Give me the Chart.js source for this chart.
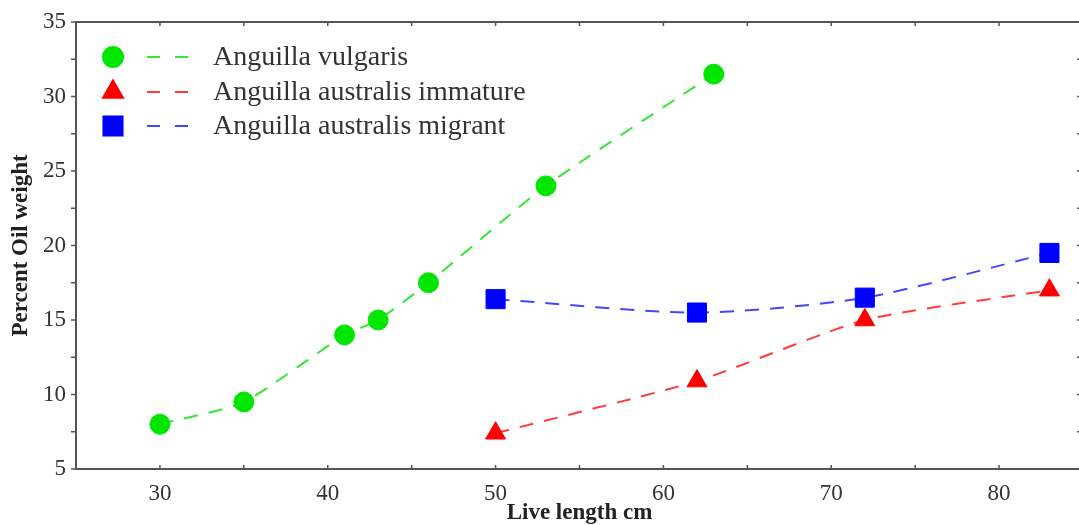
<!DOCTYPE html>
<html>
<head>
<meta charset="utf-8">
<script src="https://cdn.jsdelivr.net/npm/chart.js@4/dist/chart.umd.min.js"></script>
<style>
html,body{margin:0;padding:0;background:#fff;overflow:hidden;width:1079px;height:525px;}
#wrap{width:1084px;height:525px;position:relative;}
</style>
</head>
<body>
<div id="wrap"><canvas id="c" width="1084" height="525"></canvas></div>
<script>
// ---- data ----
const seriesNames = ["Anguilla vulgaris", "Anguilla australis immature", "Anguilla australis migrant"];
const vulgarisX = [30, 35, 41, 43, 46, 53, 63];
const vulgarisY = [8.0, 9.5, 14.0, 15.0, 17.5, 24.0, 31.5];
const immatureX = [50, 62, 72, 83];
const immatureY = [7.4, 10.9, 15.0, 17.0];
const migrantX = [50, 62, 72, 83];
const migrantY = [16.4, 15.5, 16.5, 19.5];
const xTickLabels = [30, 40, 50, 60, 70, 80];
const yTickLabels = [5, 10, 15, 20, 25, 30, 35];
const xTitle = "Live length cm";
const yTitle = "Percent Oil weight";

const pts = (xs, ys) => xs.map((x, i) => ({x: x, y: ys[i]}));

const SERIF = "'Liberation Serif', 'DejaVu Serif', serif";
const AXIS = '#555555';

const frameAndTicks = {
  id: 'frameAndTicks',
  afterDraw(chart) {
    const {ctx, chartArea: a, scales} = chart;
    const xs = scales.x, ys = scales.y;
    ctx.save();
    ctx.strokeStyle = AXIS;
    ctx.lineWidth = 2;
    ctx.strokeRect(a.left, a.top, a.right - a.left, a.bottom - a.top);
    ctx.lineWidth = 1.5;
    ctx.beginPath();
    xs.ticks.forEach(t => {
      const px = xs.getPixelForValue(t.value);
      ctx.moveTo(px, a.bottom); ctx.lineTo(px, a.bottom - 4);
      ctx.moveTo(px, a.top); ctx.lineTo(px, a.top + 4);
    });
    ys.ticks.forEach(t => {
      const py = ys.getPixelForValue(t.value);
      ctx.moveTo(a.left, py); ctx.lineTo(a.left - 5, py);
      ctx.moveTo(a.right, py); ctx.lineTo(a.right - 6, py);
    });
    ctx.stroke();
    ctx.restore();
  }
};

const customLegend = {
  id: 'customLegend',
  afterDraw(chart) {
    const {ctx} = chart;
    const rows = [57, 92, 126];
    ctx.save();
    chart.data.datasets.forEach((ds, i) => {
      const y = rows[i];
      ctx.strokeStyle = ds.borderColor;
      ctx.lineWidth = 2;
      ctx.setLineDash([13, 15]);
      ctx.beginPath();
      ctx.moveTo(147, y); ctx.lineTo(190, y);
      ctx.stroke();
      ctx.setLineDash([]);
      ctx.fillStyle = ds.pointBackgroundColor;
      ctx.strokeStyle = ds.pointBackgroundColor;
      Chart.helpers.drawPoint(ctx, {pointStyle: ds.pointStyle, radius: ds.pointRadius, borderWidth: 1, rotation: 0}, 113, y);
      ctx.fill();
      ctx.fillStyle = '#333333';
      ctx.font = "28px " + SERIF;
      ctx.textBaseline = 'middle';
      ctx.textAlign = 'left';
      ctx.fillText(ds.label, 213, y + 1);
    });
    ctx.restore();
  }
};

new Chart(document.getElementById('c'), {
  type: 'line',
  data: {
    datasets: [
      {
        label: seriesNames[0], data: pts(vulgarisX, vulgarisY),
        borderColor: '#33e833', backgroundColor: '#00e600',
        pointBackgroundColor: '#00e600', pointBorderColor: '#00e600',
        pointStyle: 'circle', pointRadius: 10, pointHoverRadius: 10, pointBorderWidth: 1,
        borderWidth: 2, borderDash: [14, 11], tension: 0.2, fill: false
      },
      {
        label: seriesNames[1], data: pts(immatureX, immatureY),
        borderColor: '#ff3b3b', backgroundColor: '#ff0000',
        pointBackgroundColor: '#ff0000', pointBorderColor: '#ff0000',
        pointStyle: 'triangle', pointRadius: 11.5, pointHoverRadius: 11.5, pointBorderWidth: 1,
        borderWidth: 2, borderDash: [14, 11], tension: 0.2, fill: false
      },
      {
        label: seriesNames[2], data: pts(migrantX, migrantY),
        borderColor: '#4545ff', backgroundColor: '#0000ff',
        pointBackgroundColor: '#0000ff', pointBorderColor: '#0000ff',
        pointStyle: 'rect', pointRadius: 13.5, pointHoverRadius: 13.5, pointBorderWidth: 1,
        borderWidth: 2, borderDash: [14, 11], tension: 0.25, fill: false
      }
    ]
  },
  options: {
    responsive: false,
    animation: false,
    events: [],
    layout: {autoPadding: false, padding: {top: 22, right: 1, left: 0, bottom: 0}},
    plugins: {legend: {display: false}, tooltip: {enabled: false}},
    scales: {
      x: {
        type: 'linear', min: 25, max: 85,
        border: {display: false},
        grid: {display: false, drawTicks: false},
        ticks: {
          stepSize: 5, autoSkip: false, maxRotation: 0, padding: 11,
          color: '#333333', font: {family: SERIF, size: 23},
          callback: v => xTickLabels.includes(v) ? String(v) : ''
        },
        title: {display: true, text: xTitle, color: '#222222',
          font: {family: SERIF, size: 23, weight: 'bold', lineHeight: 1}, padding: {top: 0, bottom: 0}},
        afterFit(s) { s.height = 56; s.paddingLeft = 0; s.paddingRight = 0; }
      },
      y: {
        type: 'linear', min: 5, max: 35,
        border: {display: false},
        grid: {display: false, drawTicks: false},
        ticks: {
          stepSize: 2.5, autoSkip: false, padding: 10,
          color: '#333333', font: {family: SERIF, size: 23},
          callback: v => yTickLabels.includes(v) ? String(v) : ''
        },
        title: {display: true, text: yTitle, color: '#222222',
          font: {family: SERIF, size: 23, weight: 'bold', lineHeight: 1}, padding: {top: 10, bottom: 0}},
        afterFit(s) { s.width = 76; s.paddingTop = 0; s.paddingBottom = 0; }
      }
    }
  },
  plugins: [frameAndTicks, customLegend]
});
</script>
</body>
</html>
